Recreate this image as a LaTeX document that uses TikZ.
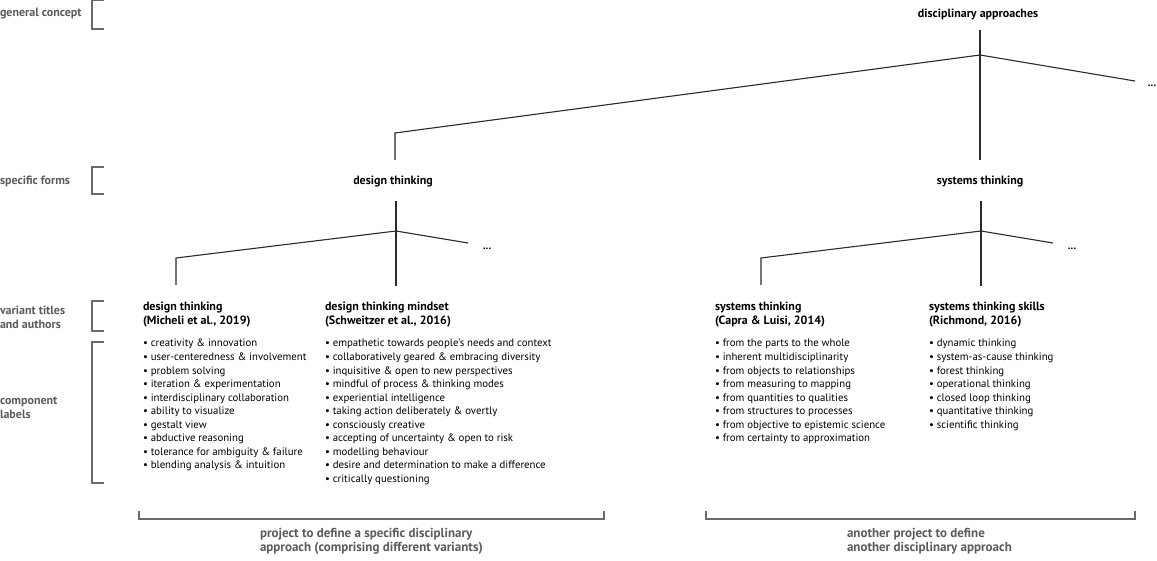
\documentclass[tikz,border=0pt]{standalone}
\usepackage{fontspec}
\setmainfont{PT Sans}
\begin{document}
\begin{tikzpicture}[x=1pt,y=-1pt,
  every node/.style={inner sep=0pt, outer sep=0pt, font=\fontsize{10.8}{13.5}\selectfont},
  head/.style={font=\fontsize{12}{14}\selectfont\bfseries, text=black},
  side/.style={font=\fontsize{12}{14}\selectfont\bfseries, text=sidegray, anchor=west, align=left},
  bottom/.style={font=\fontsize{13}{14}\selectfont\bfseries, text=sidegray, anchor=north west, align=left},
  item/.style={anchor=west, text height=7pt, text depth=2pt, text=black},
  treeline/.style={draw=treecol, line width=1.1pt},
  brk/.style={draw=brkcol, line width=1.4pt},
  dots/.style={font=\fontsize{11}{13.5}\selectfont\bfseries}
]
\definecolor{sidegray}{HTML}{5A5B5D}
\definecolor{treecol}{HTML}{2B2B2B}
\definecolor{brkcol}{HTML}{6A6A6A}
\useasboundingbox (0,0) rectangle (1157,561);

% ---- left side labels and brackets
\node[side] (lgc) at (0,14) {general concept};
\node[side] (lsf) at (0,181) {specific forms};
\node[side] (lvt) at (0,317) {variant titles\\and authors};
\node[side] (lcl) at (0,407.5) {component\\labels};
\coordinate (b1a) at (104,0);  \coordinate (b1b) at (104,29);
\coordinate (b2a) at (104,167); \coordinate (b2b) at (104,194);
\coordinate (b3a) at (104,301); \coordinate (b3b) at (104,331);
\coordinate (b4a) at (104,342); \coordinate (b4b) at (104,483);
\draw[brk] (b1a) -- ++(-12,0) |- (b1b);
\draw[brk] (b2a) -- ++(-12,0) |- (b2b);
\draw[brk] (b3a) -- ++(-12,0) |- (b3b);
\draw[brk] (b4a) -- ++(-12,0) |- (b4b);

% ---- top level
\node[head] (disc) at (978,14) {disciplinary approaches};
\node[head] (dt) at (393,182) {design thinking};
\node[head] (st) at (980,182) {systems thinking};
\node[dots] (dots0) at (1152,86) {...};
\coordinate (t0) at (980,30);
\coordinate (j0) at (980,55);
\coordinate (s0) at (980,160);
\coordinate (lk0) at (395,133);
\coordinate (l0) at (395,160);
\coordinate (r0) at (1135,81);
\draw[treeline] (t0) -- (s0);
\draw[treeline] (l0) -- (lk0) -- (j0) -- (r0);

% ---- design thinking subtree
\coordinate (t1) at (396,201);
\coordinate (j1) at (396,231);
\coordinate (s1) at (396,286);
\coordinate (lk1) at (176,258);
\coordinate (l1) at (176,285);
\coordinate (r1) at (468,243);
\node[dots] (dots1) at (487,249) {...};
\draw[treeline] (t1) -- (s1);
\draw[treeline] (l1) -- (lk1) -- (j1) -- (r1);

% ---- systems thinking subtree
\coordinate (t2) at (981,201);
\coordinate (j2) at (981,231);
\coordinate (s2) at (981,286);
\coordinate (lk2) at (761,258);
\coordinate (l2) at (761,285);
\coordinate (r2) at (1053,243);
\node[dots] (dots2) at (1072,249) {...};
\draw[treeline] (t2) -- (s2);
\draw[treeline] (l2) -- (lk2) -- (j2) -- (r2);

% ---- variant titles
\node[head, anchor=west, align=left] (v1) at (143,315) {design thinking\\(Micheli et al., 2019)};
\node[head, anchor=west, align=left] (v2) at (325,315) {design thinking mindset\\(Schweitzer et al., 2016)};
\node[head, anchor=west, align=left] (v3) at (715,315) {systems thinking\\(Capra \& Luisi, 2014)};
\node[head, anchor=west, align=left] (v4) at (929,315) {systems thinking skills\\(Richmond, 2016)};

% ---- component lists
\foreach \t [count=\i] in {creativity \& innovation, user-centeredness \& involvement, problem solving, iteration \& experimentation, interdisciplinary collaboration, ability to visualize, gestalt view, abductive reasoning, tolerance for ambiguity \& failure, blending analysis \& intuition}
  \node[item] (a\i) at (143,{344.5+13.5*(\i-1)}) {• \t};
\foreach \t [count=\i] in {empathetic towards people’s needs and context, collaboratively geared \& embracing diversity, inquisitive \& open to new perspectives, mindful of process \& thinking modes, experiential intelligence, taking action deliberately \& overtly, consciously creative, accepting of uncertainty \& open to risk, modelling behaviour, desire and determination to make a difference, critically questioning}
  \node[item] (b\i) at (325,{344.5+13.5*(\i-1)}) {• \t};
\foreach \t [count=\i] in {from the parts to the whole, inherent multidisciplinarity, from objects to relationships, from measuring to mapping, from quantities to qualities, from structures to processes, from objective to epistemic science, from certainty to approximation}
  \node[item] (c\i) at (715,{344.5+13.5*(\i-1)}) {• \t};
\foreach \t [count=\i] in {dynamic thinking, system-as-cause thinking, forest thinking, operational thinking, closed loop thinking, quantitative thinking, scientific thinking}
  \node[item] (d\i) at (929,{344.5+13.5*(\i-1)}) {• \t};

% ---- bottom brackets
\coordinate (p1a) at (139,511); \coordinate (p1b) at (604,511);
\coordinate (p2a) at (706,511); \coordinate (p2b) at (1135,511);
\draw[brk] (p1a) -- ++(0,8) -| (p1b);
\draw[brk] (p2a) -- ++(0,8) -| (p2b);
\node[bottom] (q1) at (260,528) {project to define a specific disciplinary\\approach (comprising different variants)};
\node[bottom] (q2) at (847,528) {another project to define\\another disciplinary approach};
\end{tikzpicture}
\end{document}
